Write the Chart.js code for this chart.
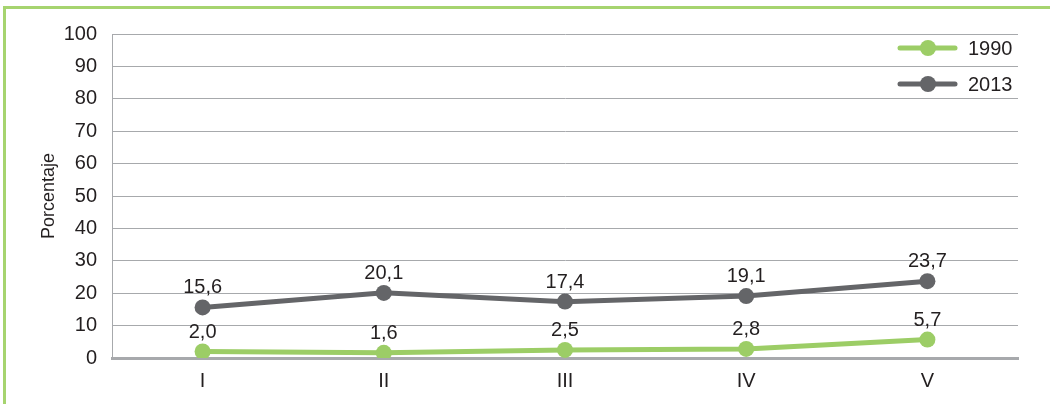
<!DOCTYPE html>
<html>
<head>
<meta charset="utf-8">
<script src="https://cdn.jsdelivr.net/npm/chart.js@4"></script>
<style>
    html, body { margin: 0; padding: 0; background: #fff; }
    .frame {
        position: absolute; left: 3px; top: 6px; width: 1047px; height: 398px;
        border-left: 3px solid #a6d46f; border-top: 3px solid #a6d46f;
        box-sizing: border-box;
    }
    #wrap { position: absolute; left: 0; top: 0; width: 1050px; height: 404px; }
</style>
</head>
<body>
<div class="frame"></div>
<div id="wrap"><canvas id="myChart"></canvas></div>
<script>
var categories = ['I', 'II', 'III', 'IV', 'V'];
var values1990 = [2.0, 1.6, 2.5, 2.8, 5.7];
var values2013 = [15.6, 20.1, 17.4, 19.1, 23.7];
var yTicks = [0, 10, 20, 30, 40, 50, 60, 70, 80, 90, 100];

var green = '#9ccd66';
var grey = '#646568';
var fontFamily = '"Liberation Sans", Arial, sans-serif';

// etiquetas de valor encima de cada punto
var pointLabels = {
    id: 'pointLabels',
    afterDatasetsDraw: function(chart) {
        var ctx = chart.ctx;
        ctx.save();
        ctx.font = '20px ' + fontFamily;
        ctx.fillStyle = '#231f20';
        ctx.textAlign = 'center';
        ctx.textBaseline = 'alphabetic';
        chart.data.datasets.forEach(function(ds, i) {
            chart.getDatasetMeta(i).data.forEach(function(pt, j) {
                var txt = ds.data[j].toFixed(1).replace('.', ',');
                ctx.fillText(txt, pt.x, pt.y - 14);
            });
        });
        ctx.restore();
    }
};

// leyenda dentro del area del grafico
var innerLegend = {
    id: 'innerLegend',
    afterDraw: function(chart) {
        var ctx = chart.ctx;
        var area = chart.chartArea;
        ctx.save();
        ctx.font = '20px ' + fontFamily;
        ctx.textBaseline = 'middle';
        chart.data.datasets.forEach(function(ds, i) {
            var y = area.top + 14 + i * 36;
            var x0 = area.right - 118;
            ctx.strokeStyle = ds.borderColor;
            ctx.lineWidth = 5;
            ctx.lineCap = 'round';
            ctx.beginPath();
            ctx.moveTo(x0, y);
            ctx.lineTo(x0 + 55, y);
            ctx.stroke();
            ctx.fillStyle = ds.borderColor;
            ctx.beginPath();
            ctx.arc(x0 + 28, y, 8, 0, Math.PI * 2);
            ctx.fill();
            ctx.fillStyle = '#231f20';
            ctx.textAlign = 'left';
            ctx.fillText(ds.label, x0 + 68, y + 1);
        });
        ctx.restore();
    }
};

var data = {
    labels: categories,
    datasets: [{
        label: '1990',
        data: values1990,
        borderColor: green,
        backgroundColor: green,
        borderWidth: 5,
        pointRadius: 8,
        pointBorderWidth: 0,
        pointBackgroundColor: green
    }, {
        label: '2013',
        data: values2013,
        borderColor: grey,
        backgroundColor: grey,
        borderWidth: 5,
        pointRadius: 8,
        pointBorderWidth: 0,
        pointBackgroundColor: grey
    }]
};

var ctx = document.getElementById('myChart').getContext('2d');
var myChart = new Chart(ctx, {
    type: 'line',
    data: data,
    plugins: [pointLabels, innerLegend],
    options: {
        responsive: true,
        maintainAspectRatio: false,
        animation: false,
        layout: { padding: { left: 34, right: 32, top: 34, bottom: 0 } },
        plugins: {
            legend: { display: false },
            tooltip: { enabled: false }
        },
        scales: {
            x: {
                offset: true,
                grid: { display: false, drawTicks: false },
                border: { color: '#a7a9ac', width: 3 },
                ticks: {
                    color: '#231f20',
                    font: { family: fontFamily, size: 20 },
                    padding: 11
                }
            },
            y: {
                min: 0,
                max: 100,
                afterBuildTicks: function(scale) {
                    scale.ticks = yTicks.map(function(v) { return { value: v }; });
                },
                afterFit: function(scale) {
                    scale.width = 78;
                },
                grid: { color: '#a7a9ac', lineWidth: 1, drawTicks: false },
                border: { color: '#a7a9ac', width: 1 },
                ticks: {
                    color: '#231f20',
                    font: { family: fontFamily, size: 20 },
                    padding: 15
                },
                title: {
                    display: true,
                    text: 'Porcentaje',
                    color: '#231f20',
                    font: { family: fontFamily, size: 18 },
                    padding: { top: 4, bottom: 6 }
                }
            }
        }
    }
});
</script>
</body>
</html>
